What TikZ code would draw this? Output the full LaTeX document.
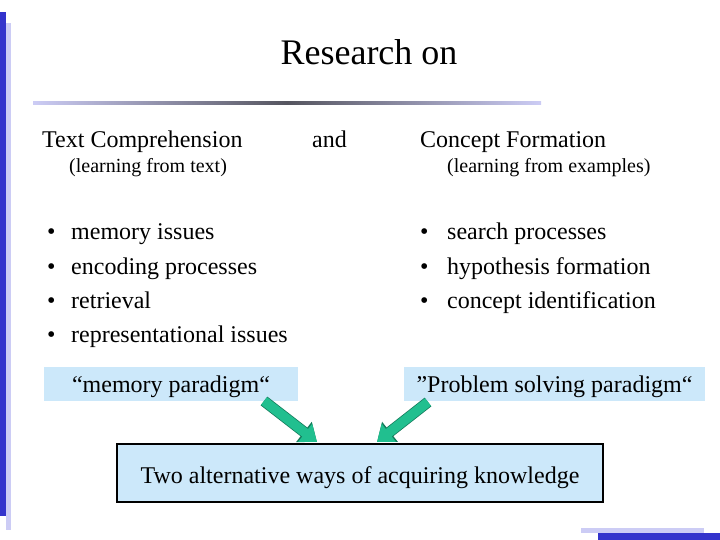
\documentclass[tikz,border=0pt]{standalone}
\usepackage{fontspec}
\setmainfont{Liberation Serif}
\usetikzlibrary{arrows.meta}
\definecolor{bardark}{HTML}{3333CC}
\definecolor{barlight}{HTML}{CCCCF5}
\definecolor{rulemid}{HTML}{55555F}
\definecolor{boxblue}{HTML}{CCE8FA}
\definecolor{arrowgreen}{HTML}{21BF8F}
\definecolor{arrowedge}{HTML}{137A5A}
\newcommand{\blt}[1]{\makebox[#1][l]{\textbullet}}

\begin{document}
\begin{tikzpicture}[x=1pt, y=-1pt,
  every node/.style = {inner sep=0pt, anchor=base west,
    font=\fontsize{24}{29}\selectfont},
  sub/.style = {font=\fontsize{20}{24}\selectfont},
  paradigm/.style = {fill=boxblue, anchor=center, minimum height=34pt,
    text height=17pt, text depth=0pt},
  flow/.style = {draw=arrowgreen, line width=9.5pt,
    -{Triangle[length=15pt, width=22pt]},
    preaction={draw=arrowedge, line width=11pt,
      -{Triangle[length=16.5pt, width=24.5pt]}}}]
  \useasboundingbox (0,0) rectangle (720,540);

  % frame of the slide
  \fill[bardark] (0,12) rectangle (5.5,516);
  \fill[barlight] (5.5,23) rectangle (10.5,530);
  \fill[barlight] (581,528) rectangle (704,533);
  \fill[bardark] (598,533) rectangle (720,540);
  \shade[left color=barlight, right color=barlight, middle color=rulemid]
    (33,101.5) rectangle (541,104.5);

  \node[anchor=base, font=\fontsize{36}{43}\selectfont] (title) at (369,65) {Research on};

  % left column
  \node (tc) at (42,148) {Text Comprehension};
  \node[sub] (tcsub) at (69,173) {(learning from text)};
  \node (and) at (312,148) {and};
  \foreach \txt [count=\i] in {memory issues, encoding processes,
      retrieval, representational issues}
    \node (tcitem\i) at (46.8,{240+34.3*(\i-1)}) {\blt{24.2pt}\txt};

  % right column
  \node (cf) at (420,148) {Concept Formation};
  \node[sub] (cfsub) at (447,173) {(learning from examples)};
  \foreach \txt [count=\i] in {search processes, hypothesis formation,
      concept identification}
    \node (cfitem\i) at (420,{240+34.3*(\i-1)}) {\blt{27pt}\txt};

  % paradigms
  \node[paradigm, minimum width=254pt] (memory) at (171,384) {“memory paradigm“};
  \node[paradigm, minimum width=301pt] (problem) at (554.5,384) {”Problem solving paradigm“};
  \node[paradigm, minimum width=486pt, minimum height=58pt, text height=21pt,
    draw, line width=2pt] (ways) at (360,473) {Two alternative ways of acquiring knowledge};

  \coordinate (lstart) at (264,401);
  \coordinate (lend) at (317,442);
  \coordinate (rstart) at (428,402);
  \coordinate (rend) at (377,442);
  \draw[flow] (lstart) -- (lend);
  \draw[flow] (rstart) -- (rend);
\end{tikzpicture}
\end{document}
